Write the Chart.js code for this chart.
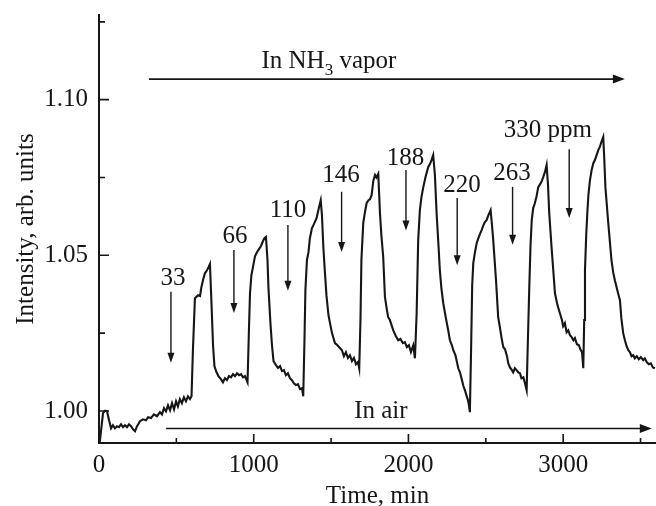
<!DOCTYPE html>
<html>
<head>
<meta charset="utf-8">
<script src="https://cdn.jsdelivr.net/npm/chart.js@4.4.1/dist/chart.umd.min.js"></script>
<style>
  html, body { margin: 0; padding: 0; background: #fff; }
  #wrap { width: 656px; height: 506px; }
</style>
</head>
<body>
<div id="wrap"><canvas id="plot" width="656" height="506"></canvas></div>
<script>
// time, min
var timeMin = [
  5, 26, 39, 52, 65, 78, 90, 103, 116, 129, 142, 155, 168, 181, 194, 207, 220, 233, 246, 265,
  284, 304, 317, 336, 355, 375, 394, 407, 420, 433, 446, 459, 472, 485, 498, 510, 523, 536, 549, 562,
  575, 588, 598, 607, 620, 640, 653, 662, 672, 685, 698, 708, 717, 728, 737, 746, 759, 772, 788, 801,
  814, 827, 840, 853, 866, 879, 892, 905, 918, 931, 943, 960, 969, 976, 985, 995, 1008, 1021, 1034, 1047,
  1060, 1069, 1079, 1089, 1095, 1108, 1118, 1128, 1144, 1157, 1170, 1183, 1195, 1208, 1221, 1234, 1247, 1260, 1273, 1286,
  1299, 1312, 1320, 1328, 1334, 1344, 1354, 1363, 1376, 1389, 1406, 1415, 1425, 1433, 1441, 1450, 1460, 1470, 1483, 1493,
  1506, 1525, 1541, 1557, 1570, 1583, 1596, 1609, 1622, 1635, 1648, 1661, 1674, 1682, 1690, 1696, 1708, 1719, 1730, 1742,
  1751, 1762, 1773, 1784, 1793, 1805, 1816, 1825, 1837, 1848, 1861, 1869, 1880, 1902, 1919, 1934, 1948, 1964, 1977, 1990,
  2003, 2016, 2031, 2042, 2053, 2063, 2074, 2084, 2096, 2110, 2128, 2139, 2149, 2160, 2171, 2182, 2194, 2203, 2213, 2225,
  2242, 2257, 2268, 2281, 2290, 2304, 2322, 2333, 2346, 2355, 2365, 2375, 2385, 2391, 2397, 2406, 2412, 2419, 2430, 2441,
  2452, 2462, 2473, 2485, 2494, 2505, 2517, 2531, 2540, 2548, 2566, 2580, 2591, 2602, 2613, 2624, 2637, 2645, 2656, 2669,
  2677, 2688, 2699, 2710, 2721, 2730, 2743, 2753, 2764, 2772, 2781, 2789, 2797, 2806, 2817, 2828, 2839, 2850, 2859, 2871,
  2882, 2893, 2902, 2910, 2925, 2936, 2947, 2963, 2979, 2992, 3000, 3011, 3022, 3033, 3044, 3055, 3066, 3076, 3089, 3102,
  3111, 3122, 3130, 3136, 3141, 3149, 3156, 3163, 3173, 3184, 3195, 3205, 3216, 3227, 3237, 3247, 3259, 3266, 3273, 3290,
  3301, 3312, 3323, 3334, 3345, 3355, 3367, 3376, 3388, 3399, 3410, 3421, 3431, 3442, 3453, 3463, 3476, 3489, 3502, 3517,
  3528, 3541, 3554, 3567, 3580, 3593
];
// intensity, arb. units
var intensity = [
  0.9900, 0.9993, 1.0001, 0.9999, 0.9970, 0.9944, 0.9954, 0.9944, 0.9951, 0.9948, 0.9957, 0.9948, 0.9954, 0.9948, 0.9957, 0.9951, 0.9941, 0.9935, 0.9951, 0.9967,
  0.9973, 0.9970, 0.9980, 0.9977, 0.9989, 0.9983, 0.9996, 0.9989, 1.0009, 0.9999, 1.0018, 1.0002, 1.0025, 1.0005, 1.0031, 1.0015, 1.0038, 1.0025, 1.0044, 1.0031,
  1.0047, 1.0038, 1.0047, 1.0195, 1.0362, 1.0372, 1.0369, 1.0398, 1.0420, 1.0443, 1.0452, 1.0462, 1.0472, 1.0333, 1.0211, 1.0144, 1.0125, 1.0112, 1.0102, 1.0092,
  1.0105, 1.0099, 1.0112, 1.0108, 1.0118, 1.0112, 1.0121, 1.0115, 1.0118, 1.0108, 1.0112, 1.0092, 1.0259, 1.0378, 1.0436, 1.0462, 1.0497, 1.0510, 1.0520, 1.0530,
  1.0546, 1.0555, 1.0559, 1.0485, 1.0398, 1.0282, 1.0211, 1.0160, 1.0147, 1.0138, 1.0144, 1.0128, 1.0131, 1.0115, 1.0121, 1.0105, 1.0099, 1.0089, 1.0083, 1.0086,
  1.0070, 1.0073, 1.0047, 1.0227, 1.0388, 1.0485, 1.0510, 1.0555, 1.0587, 1.0600, 1.0619, 1.0639, 1.0661, 1.0677, 1.0629, 1.0526, 1.0446, 1.0372, 1.0308, 1.0282,
  1.0250, 1.0218, 1.0211, 1.0202, 1.0195, 1.0176, 1.0189, 1.0170, 1.0179, 1.0160, 1.0170, 1.0150, 1.0157, 1.0137, 1.0292, 1.0485, 1.0604, 1.0639, 1.0668, 1.0677,
  1.0680, 1.0693, 1.0740, 1.0758, 1.0750, 1.0762, 1.0635, 1.0565, 1.0494, 1.0366, 1.0324, 1.0301, 1.0292, 1.0259, 1.0240, 1.0227, 1.0231, 1.0218, 1.0221, 1.0205,
  1.0211, 1.0189, 1.0211, 1.0169, 1.0314, 1.0549, 1.0646, 1.0687, 1.0719, 1.0751, 1.0784, 1.0793, 1.0806, 1.0822, 1.0758, 1.0635, 1.0533, 1.0452, 1.0394, 1.0346,
  1.0298, 1.0259, 1.0227, 1.0211, 1.0195, 1.0179, 1.0137, 1.0124, 1.0099, 1.0080, 1.0067, 1.0050, 1.0034, 1.0018, 0.9996, 1.0227, 1.0404, 1.0475, 1.0510, 1.0539,
  1.0555, 1.0568, 1.0581, 1.0597, 1.0607, 1.0613, 1.0629, 1.0645, 1.0597, 1.0549, 1.0420, 1.0301, 1.0269, 1.0234, 1.0205, 1.0198, 1.0176, 1.0153, 1.0140, 1.0131,
  1.0124, 1.0137, 1.0131, 1.0124, 1.0121, 1.0105, 1.0108, 1.0089, 1.0067, 1.0227, 1.0397, 1.0532, 1.0613, 1.0651, 1.0667, 1.0690, 1.0719, 1.0728, 1.0735, 1.0751,
  1.0767, 1.0790, 1.0726, 1.0635, 1.0526, 1.0452, 1.0378, 1.0340, 1.0314, 1.0292, 1.0272, 1.0282, 1.0253, 1.0259, 1.0243, 1.0237, 1.0227, 1.0234, 1.0214, 1.0211,
  1.0198, 1.0189, 1.0137, 1.0292, 1.0452, 1.0565, 1.0635, 1.0693, 1.0741, 1.0774, 1.0796, 1.0806, 1.0822, 1.0838, 1.0848, 1.0864, 1.0880, 1.0806, 1.0719, 1.0613,
  1.0549, 1.0485, 1.0446, 1.0420, 1.0398, 1.0378, 1.0356, 1.0298, 1.0250, 1.0227, 1.0208, 1.0195, 1.0189, 1.0176, 1.0179, 1.0169, 1.0176, 1.0166, 1.0173, 1.0163,
  1.0169, 1.0156, 1.0150, 1.0153, 1.0140, 1.0137
];

var xMajorTicks = [0, 1000, 2000, 3000];
var xMinorTicks = [500, 1500, 2500, 3500];
var yMajorTicks = [1.00, 1.05, 1.10];
var yMinorTicks = [1.025, 1.075, 1.125];

// NH3 concentrations, ppm
var concLabels = ['33', '66', '110', '146', '188', '220', '263', '330 ppm'];

// where the labels and arrows sit, in data units
var conc = {
  textX:    [478, 879, 1221, 1564, 1981, 2346, 2669, 2901],
  textY:    [1.0404, 1.0539, 1.0623, 1.0735, 1.0790, 1.0703, 1.0741, 1.0880],
  arrowX:   [465, 872, 1221, 1568, 1984, 2315, 2673, 3039],
  arrowTop: [1.0383, 1.0517, 1.0597, 1.0704, 1.0774, 1.0684, 1.0720, 1.0841],
  arrowTip: [1.0155, 1.0315, 1.0386, 1.0511, 1.0580, 1.0468, 1.0534, 1.0620]
};
var vaporArrow = { from: 323, to: 3399, y: 1.1066, textX: 1486, textY: 1.1101 };
var airArrow = { from: 433, to: 3573, y: 0.99434, textX: 1822, textY: 0.99765 };

var ink = '#161616';
var serif = '"Liberation Serif", "Times New Roman", serif';

Chart.defaults.font.family = serif;
Chart.defaults.font.size = 25;
Chart.defaults.color = ink;

function arrowDown(ctx, x, y0, y1) {
  ctx.lineWidth = 1.4;
  ctx.beginPath();
  ctx.moveTo(x, y0);
  ctx.lineTo(x, y1 - 8);
  ctx.stroke();
  ctx.beginPath();
  ctx.moveTo(x - 3.5, y1 - 10);
  ctx.lineTo(x + 3.5, y1 - 10);
  ctx.lineTo(x, y1);
  ctx.closePath();
  ctx.fill();
}

function arrowRight(ctx, x0, x1, y) {
  ctx.lineWidth = 1.6;
  ctx.beginPath();
  ctx.moveTo(x0, y);
  ctx.lineTo(x1 - 10, y);
  ctx.stroke();
  ctx.beginPath();
  ctx.moveTo(x1 - 12, y - 4.5);
  ctx.lineTo(x1 - 12, y + 4.5);
  ctx.lineTo(x1, y);
  ctx.closePath();
  ctx.fill();
}

var overlay = {
  id: 'overlay',
  afterDraw: function(chart) {
    var ctx = chart.ctx;
    var xs = chart.scales.x, ys = chart.scales.y;
    var area = chart.chartArea;
    ctx.save();
    ctx.strokeStyle = ink;
    ctx.fillStyle = ink;

    // ticks point into the plot
    ctx.lineWidth = 1.6;
    ctx.beginPath();
    xMajorTicks.forEach(function(v) { var p = xs.getPixelForValue(v); ctx.moveTo(p, area.bottom); ctx.lineTo(p, area.bottom - 9); });
    xMinorTicks.forEach(function(v) { var p = xs.getPixelForValue(v); ctx.moveTo(p, area.bottom); ctx.lineTo(p, area.bottom - 5); });
    yMajorTicks.forEach(function(v) { var p = ys.getPixelForValue(v); ctx.moveTo(area.left, p); ctx.lineTo(area.left + 10, p); });
    yMinorTicks.forEach(function(v) { var p = ys.getPixelForValue(v); ctx.moveTo(area.left, p); ctx.lineTo(area.left + 6, p); });
    ctx.stroke();

    // concentration marks
    ctx.font = '25px ' + serif;
    ctx.textAlign = 'center';
    ctx.textBaseline = 'alphabetic';
    concLabels.forEach(function(t, i) {
      ctx.fillText(t, xs.getPixelForValue(conc.textX[i]), ys.getPixelForValue(conc.textY[i]));
      arrowDown(ctx, xs.getPixelForValue(conc.arrowX[i]),
        ys.getPixelForValue(conc.arrowTop[i]), ys.getPixelForValue(conc.arrowTip[i]));
    });

    // In NH3 vapor
    arrowRight(ctx, xs.getPixelForValue(vaporArrow.from), xs.getPixelForValue(vaporArrow.to), ys.getPixelForValue(vaporArrow.y));
    var big = '25px ' + serif, small = '17px ' + serif;
    ctx.font = big; var w1 = ctx.measureText('In NH').width, w3 = ctx.measureText(' vapor').width;
    ctx.font = small; var w2 = ctx.measureText('3').width;
    var cx = xs.getPixelForValue(vaporArrow.textX), by = ys.getPixelForValue(vaporArrow.textY);
    var sx = cx - (w1 + w2 + w3) / 2;
    ctx.textAlign = 'left';
    ctx.font = big; ctx.fillText('In NH', sx, by);
    ctx.font = small; ctx.fillText('3', sx + w1, by + 7);
    ctx.font = big; ctx.fillText(' vapor', sx + w1 + w2, by);

    // In air
    arrowRight(ctx, xs.getPixelForValue(airArrow.from), xs.getPixelForValue(airArrow.to), ys.getPixelForValue(airArrow.y));
    ctx.textAlign = 'center';
    ctx.fillText('In air', xs.getPixelForValue(airArrow.textX), ys.getPixelForValue(airArrow.textY));

    // axis titles
    ctx.fillText('Time, min', (area.left + area.right) / 2, 503);
    ctx.save();
    ctx.translate(33, (area.top + area.bottom) / 2);
    ctx.rotate(-Math.PI / 2);
    ctx.fillText('Intensity, arb. units', 0, 0);
    ctx.restore();

    ctx.restore();
  }
};

var points = timeMin.map(function(t, i) { return { x: t, y: intensity[i] }; });

new Chart(document.getElementById('plot'), {
  type: 'line',
  data: {
    datasets: [{
      data: points,
      borderColor: ink,
      borderWidth: 2.1,
      pointRadius: 0,
      tension: 0,
      fill: false
    }]
  },
  options: {
    responsive: false,
    animation: false,
    devicePixelRatio: 1,
    layout: { padding: { top: 15, right: 0, left: 0, bottom: 0 } },
    plugins: { legend: { display: false }, tooltip: { enabled: false } },
    scales: {
      x: {
        type: 'linear',
        min: 0,
        max: 3600,
        grid: { display: false, drawTicks: false, tickLength: 0 },
        border: { display: true, color: ink, width: 2 },
        afterBuildTicks: function(s) { s.ticks = xMajorTicks.map(function(v) { return { value: v }; }); },
        afterFit: function(s) { s.height = 63; s.paddingLeft = 0; s.paddingRight = 0; },
        ticks: { padding: 7, color: ink, maxRotation: 0, callback: function(v) { return String(v); } }
      },
      y: {
        type: 'linear',
        min: 0.9897,
        max: 1.1272,
        grid: { display: false, drawTicks: false, tickLength: 0 },
        border: { display: true, color: ink, width: 2 },
        afterBuildTicks: function(s) { s.ticks = yMajorTicks.map(function(v) { return { value: v }; }); },
        afterFit: function(s) { s.width = 99; s.paddingTop = 0; s.paddingBottom = 0; },
        ticks: { padding: 11, color: ink, callback: function(v) { return v.toFixed(2); } }
      }
    }
  },
  plugins: [overlay]
});
</script>
</body>
</html>
